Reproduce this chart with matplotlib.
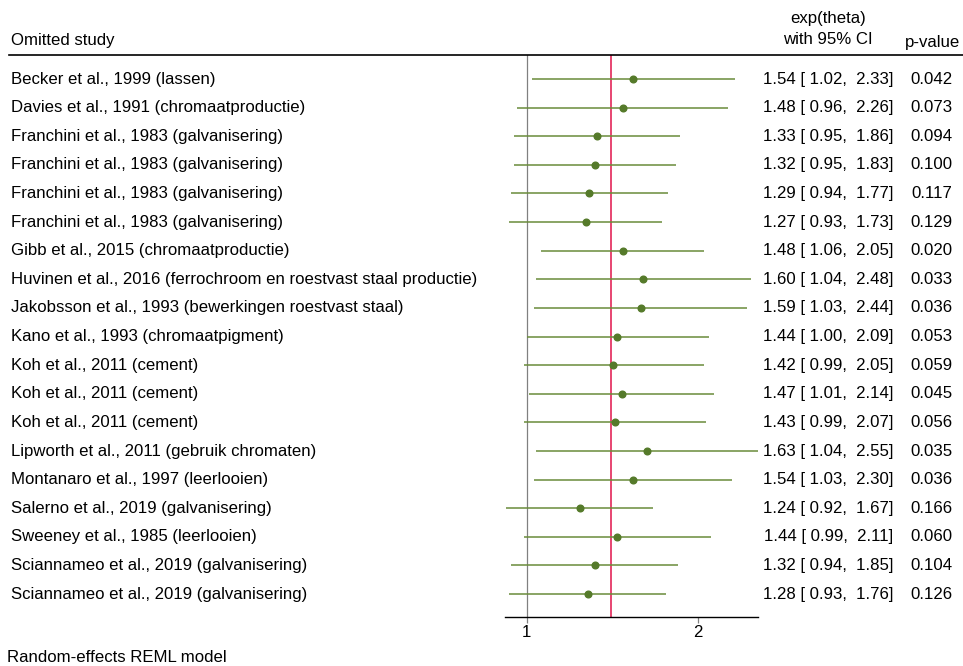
import matplotlib.pyplot as plt
import matplotlib.transforms as mtransforms
from matplotlib.lines import Line2D

# gegevens: leave-one-out meta-analyse
studies = [
    'Becker et al., 1999 (lassen)',
    'Davies et al., 1991 (chromaatproductie)',
    'Franchini et al., 1983 (galvanisering)',
    'Franchini et al., 1983 (galvanisering)',
    'Franchini et al., 1983 (galvanisering)',
    'Franchini et al., 1983 (galvanisering)',
    'Gibb et al., 2015 (chromaatproductie)',
    'Huvinen et al., 2016 (ferrochroom en roestvast staal productie)',
    'Jakobsson et al., 1993 (bewerkingen roestvast staal)',
    'Kano et al., 1993 (chromaatpigment)',
    'Koh et al., 2011 (cement)',
    'Koh et al., 2011 (cement)',
    'Koh et al., 2011 (cement)',
    'Lipworth et al., 2011 (gebruik chromaten)',
    'Montanaro et al., 1997 (leerlooien)',
    'Salerno et al., 2019 (galvanisering)',
    'Sweeney et al., 1985 (leerlooien)',
    'Sciannameo et al., 2019 (galvanisering)',
    'Sciannameo et al., 2019 (galvanisering)',
]
est = [1.54, 1.48, 1.33, 1.32, 1.29, 1.27, 1.48, 1.60, 1.59, 1.44,
       1.42, 1.47, 1.43, 1.63, 1.54, 1.24, 1.44, 1.32, 1.28]
lo = [1.02, 0.96, 0.95, 0.95, 0.94, 0.93, 1.06, 1.04, 1.03, 1.00,
      0.99, 1.01, 0.99, 1.04, 1.03, 0.92, 0.99, 0.94, 0.93]
hi = [2.33, 2.26, 1.86, 1.83, 1.77, 1.73, 2.05, 2.48, 2.44, 2.09,
      2.05, 2.14, 2.07, 2.55, 2.30, 1.67, 2.11, 1.85, 1.76]
pval = [0.042, 0.073, 0.094, 0.100, 0.117, 0.129, 0.020, 0.033, 0.036, 0.053,
        0.059, 0.045, 0.056, 0.035, 0.036, 0.166, 0.060, 0.104, 0.126]
overall = 1.41
xticks = [1, 2]

plt.rcParams['font.family'] = ['Liberation Sans', 'DejaVu Sans']
fs = 12.1
W, H = 963, 666

fig = plt.figure(figsize=(W / 100, H / 100), dpi=100)
ax = fig.add_axes([505 / W, (H - 617) / H, (758.3 - 505) / W, (617 - 55) / H])

rows = list(range(len(studies)))
ax.set_xscale('log')
ax.set_xlim(0.916, 2.557)
ax.set_ylim(18.8, -0.84)

# lijnen bij 1 en bij de gepoolde schatting
ax.axvline(1, color='#808080', lw=0.9, zorder=1)
ax.axvline(overall, color='#e0144a', lw=1.1, zorder=1)

ax.hlines(rows, lo, hi, color='#6a8c3a', lw=1.1, zorder=2)
ax.plot(est, rows, 'o', color='#557a2a', ms=4.8, zorder=3)

for s in ['top', 'left', 'right']:
    ax.spines[s].set_visible(False)
ax.spines['bottom'].set_linewidth(1.0)
ax.set_yticks([])
ax.set_xticks(xticks)
ax.set_xticklabels([str(t) for t in xticks], fontsize=fs)
ax.xaxis.set_minor_locator(plt.NullLocator())
ax.tick_params(axis='x', length=4, width=0.9, pad=2, color='#808080')

tr = mtransforms.blended_transform_factory(fig.transFigure, ax.transData)
for i in rows:
    ax.text(11 / W, i, studies[i], transform=tr, fontsize=fs, va='center', ha='left')
    ax.text(893 / W, i, '{:4.2f} [{:5.2f}, {:5.2f}]'.format(est[i], lo[i], hi[i]),
            transform=tr, fontsize=fs, va='center', ha='right')
    ax.text(952 / W, i, '{:.3f}'.format(pval[i]), transform=tr, fontsize=fs,
            va='center', ha='right')

# kopteksten
fig.text(11 / W, 1 - 40 / H, 'Omitted study', fontsize=fs, va='center', ha='left')
fig.text(828 / W, 1 - 18 / H, 'exp(theta)', fontsize=fs, va='center', ha='center')
fig.text(828 / W, 1 - 40 / H, 'with 95% CI', fontsize=fs, va='center', ha='center')
fig.text(960 / W, 1 - 43 / H, 'p-value', fontsize=fs, va='center', ha='right')
fig.add_artist(Line2D([9 / W, 1], [1 - 55 / H, 1 - 55 / H], color='black', lw=1.2,
                      transform=fig.transFigure))

fig.text(7 / W, 1 - 658 / H, 'Random-effects REML model', fontsize=fs, va='center', ha='left')

plt.savefig('out.png', dpi=100)
